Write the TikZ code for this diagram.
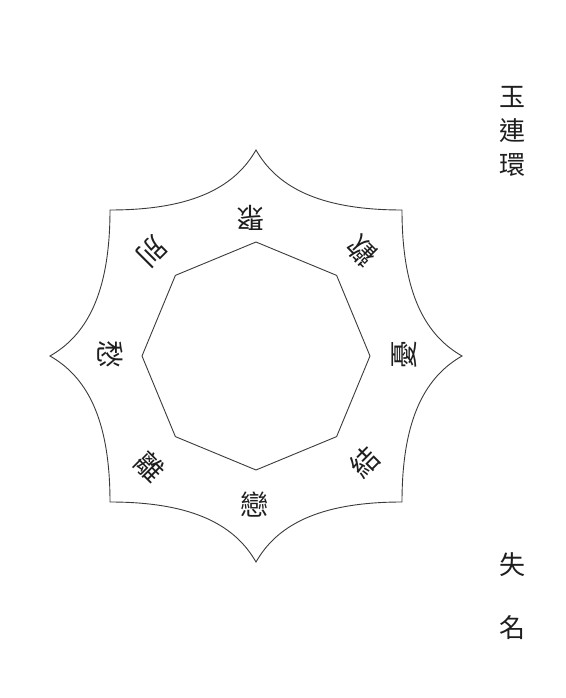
\documentclass[tikz,border=0pt]{standalone}
\usepackage{fontspec}
\newfontfamily\cjk{Noto Sans CJK TC}
\definecolor{ink}{HTML}{3A3A3A}
\definecolor{txt}{HTML}{1E1E1E}
\begin{document}
\begin{tikzpicture}[x=1pt,y=1pt,
  edge/.style={draw=ink,line width=0.9pt,line join=miter},
  ringchar/.style={font=\cjk\fontsize{28}{28}\selectfont,text=txt,inner sep=0pt},
  titlechar/.style={font=\cjk\fontsize{26}{26}\selectfont,text=txt,inner sep=0pt}]
\useasboundingbox (-256,356) rectangle (309,-342);
% star tips and corners
\coordinate (tN) at (0,206);
\coordinate (tE) at (206,0);
\coordinate (tS) at (0,-206);
\coordinate (tW) at (-206,0);
\coordinate (cNE) at (146,146);
\coordinate (cSE) at (146,-146);
\coordinate (cSW) at (-146,-146);
\coordinate (cNW) at (-146,146);
\draw[edge] (tN) .. controls (20,171) and (60,146) .. (cNE)
  .. controls (146,60) and (171,20) .. (tE)
  .. controls (171,-20) and (146,-60) .. (cSE)
  .. controls (60,-146) and (20,-171) .. (tS)
  .. controls (-20,-171) and (-60,-146) .. (cSW)
  .. controls (-146,-60) and (-171,-20) .. (tW)
  .. controls (-171,20) and (-146,60) .. (cNW)
  .. controls (-60,146) and (-20,171) .. (tN) -- cycle;
% inner octagon
\foreach \a in {0,45,...,315} \coordinate (o\a) at (\a:114);
\draw[edge] (o0) -- (o45) -- (o90) -- (o135) -- (o180) -- (o225) -- (o270) -- (o315) -- cycle;
% ring characters, tops toward the centre
\node[ringchar,rotate=180] (c1) at (-6,138) {聚};
\node[ringchar,rotate=135] (c2) at (106,105) {歡};
\node[ringchar,rotate=90]  (c3) at (148,1) {憂};
\node[ringchar,rotate=45]  (c4) at (109,-106) {結};
\node[ringchar,rotate=0]   (c5) at (-2,-149) {戀};
\node[ringchar,rotate=-45] (c6) at (-106,-111) {離};
\node[ringchar,rotate=-90] (c7) at (-146,1) {愁};
\node[ringchar,rotate=-135] (c8) at (-104,104) {別};
% title and author
\node[titlechar] (t1) at (256,259) {玉};
\node[titlechar] (t2) at (256,225) {連};
\node[titlechar] (t3) at (256,191) {環};
\node[titlechar] (a1) at (256,-209) {失};
\node[titlechar] (a2) at (256,-272) {名};
\end{tikzpicture}
\end{document}
